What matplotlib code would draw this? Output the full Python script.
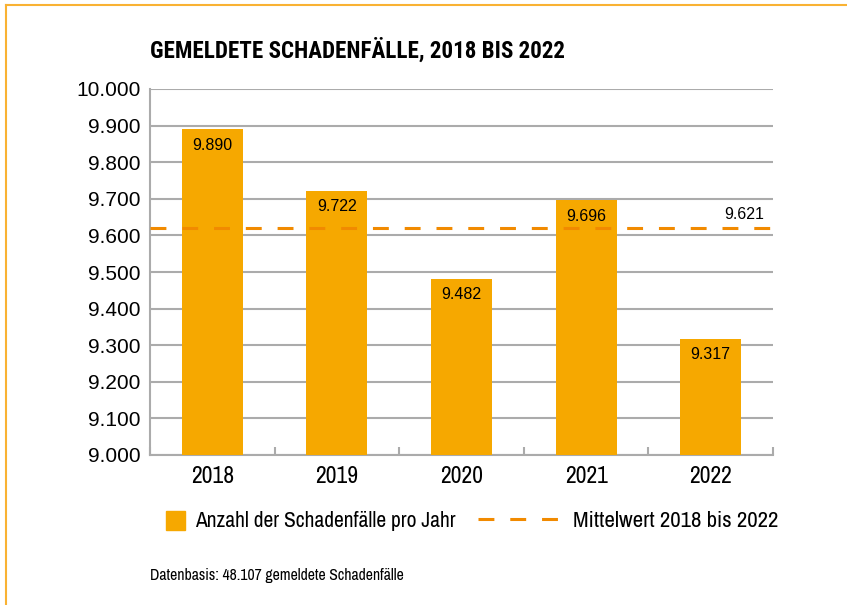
import matplotlib.pyplot as plt
import numpy as np
from matplotlib.lines import Line2D
from matplotlib.patches import Rectangle

years = ['2018', '2019', '2020', '2021', '2022']
cases = [9890, 9722, 9482, 9696, 9317]
yticks = [9000, 9100, 9200, 9300, 9400, 9500, 9600, 9700, 9800, 9900, 10000]

bar_color = '#F6A800'
mean_color = '#F18A00'
grid_color = '#ABABAB'
narrow = ['Archivo Narrow', 'DejaVu Sans']
cond = ['Roboto Condensed', 'DejaVu Sans']
regular = ['Liberation Sans', 'DejaVu Sans']


def de(v):
    return f'{v:,.0f}'.replace(',', '.')


mean = np.mean(cases)

fig = plt.figure(figsize=(8.47, 6.05), dpi=100)
ax = fig.add_axes([150 / 847, 1 - 455 / 605, 623 / 847, 366 / 605])

x = np.arange(len(years))
ax.bar(x, cases, width=0.49, color=bar_color, zorder=3)
for xi, v in zip(x, cases):
    ax.annotate(de(v), (xi, v), xytext=(0, -6), textcoords='offset points',
                ha='center', va='top', fontsize=11.5, family=regular, zorder=5)

ax.axhline(mean, color=mean_color, lw=2.2, dashes=(5.2, 5.2), zorder=4)
ax.annotate(de(mean), (0.9856, mean), xycoords=('axes fraction', 'data'),
            xytext=(0, 4), textcoords='offset points',
            ha='right', va='bottom', fontsize=11.5, family=regular)

ax.set_xlim(-0.5, len(years) - 0.5)
ax.set_ylim(9000, 10000)
ax.set_yticks(yticks)
ax.set_yticklabels([de(t) for t in yticks], family=regular, fontsize=15)
ax.tick_params(axis='y', length=0, pad=7)
ax.set_xticks(x)
ax.set_xticklabels(years, family=narrow, fontsize=17)
ax.tick_params(axis='x', which='major', length=0, pad=8)
ax.set_xticks(np.arange(len(years) + 1) - 0.5, minor=True)
ax.tick_params(axis='x', which='minor', direction='in', length=6,
               width=1.5, color=grid_color)

ax.grid(axis='y', color=grid_color, lw=1.5, zorder=0)
for s in ['top', 'right']:
    ax.spines[s].set_visible(False)
for s in ['left', 'bottom']:
    ax.spines[s].set_color(grid_color)
    ax.spines[s].set_linewidth(1.5)

fig.text(150 / 847, 1 - 58 / 605, 'GEMELDETE SCHADENFÄLLE, 2018 BIS 2022',
         family=cond, fontweight='bold', fontsize=16.6, va='baseline')

# legend
fig.patches.append(Rectangle((166 / 847, 1 - 530 / 605), 19 / 847, 19 / 605,
                             transform=fig.transFigure, color=bar_color))
fig.text(195 / 847, 1 - 527 / 605, 'Anzahl der Schadenfälle pro Jahr',
         family=narrow, fontsize=15.5, va='baseline')
fig.lines.append(Line2D([478 / 847, 558 / 847], [1 - 519 / 605] * 2,
                        transform=fig.transFigure, color=mean_color,
                        lw=2.2, dashes=(5.2, 5.2)))
fig.text(573 / 847, 1 - 527 / 605, 'Mittelwert 2018 bis 2022',
         family=narrow, fontsize=16.5, va='baseline')

fig.text(150 / 847, 1 - 580 / 605, 'Datenbasis: 48.107 gemeldete Schadenfälle',
         family=narrow, fontsize=11.3, va='baseline')

# frame lines
fig.lines.append(Line2D([6 / 847, 1], [1 - 5 / 605] * 2,
                        transform=fig.transFigure, color='#F9B233', lw=1.5))
fig.lines.append(Line2D([6 / 847] * 2, [0, 1 - 5 / 605],
                        transform=fig.transFigure, color='#F9B233', lw=1.5))

fig.savefig('out.png', dpi=100)
